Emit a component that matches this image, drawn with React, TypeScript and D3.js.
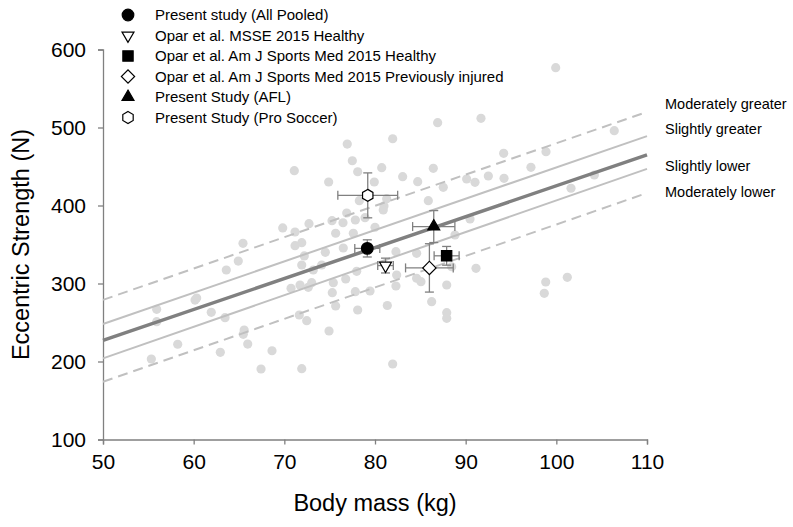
import React, { useRef, useEffect } from 'react';
import * as d3 from 'd3';

// individual players (body mass kg, eccentric strength N)
const bodyMass = [
  71.1, 77.5, 78.09, 74.89, 78.27, 76.88, 75.26, 76.47, 77.83, 72.72, 69.82, 71.18, 75.66, 77.61,
  71.92, 71.18, 65.44, 76.5, 74.52, 72.2, 64.92, 63.6, 71.92, 74.12, 73.19, 77.98, 76.77, 75.4,
  73.02, 71.73, 70.74, 72.64, 77.83, 75.29, 60.33, 60.15, 55.92, 75.66, 78.09, 61.94, 63.46, 55.92,
  71.65, 72.47, 65.57, 65.47, 74.93, 58.24, 65.96, 68.64, 62.94, 55.33, 67.43, 71.92,
  86.91, 91.69, 76.94, 81.95, 80.74, 79.92, 83.05, 84.71, 86.43, 87.53, 90.11, 91.03, 92.5, 94.19,
  94.23, 97.2, 98.86, 81.29, 80.99, 78.9, 80.91, 80.0, 85.88, 88.82, 90.48, 84.59, 82.31, 82.39,
  84.59, 85.07, 79.45, 87.91, 91.14, 98.83, 98.67, 101.21, 86.25, 81.36, 87.91, 87.91, 81.95, 88.46,
  82.31, 99.93, 106.39, 104.19, 101.62,
];
const strength = [
  444.6, 457.4, 443.3, 430.1, 406.2, 390.4, 380.5, 377.9, 381.4, 376.7, 371.2, 366.0, 364.4, 364.4,
  352.3, 348.5, 351.5, 345.5, 340.0, 335.3, 328.8, 317.3, 323.7, 323.7, 317.3, 315.6, 305.8, 301.0,
  301.0, 298.1, 293.8, 295.1, 289.5, 288.2, 281.4, 278.8, 266.9, 271.2, 266.0, 263.1, 256.2, 251.0,
  259.6, 252.3, 240.4, 234.9, 239.1, 222.1, 222.4, 213.8, 211.8, 203.2, 190.4, 190.8,
  506.2, 511.8, 478.8, 485.6, 448.5, 430.1, 436.9, 430.5, 447.7, 423.3, 434.0, 429.7, 437.8, 466.9,
  434.9, 449.0, 469.0, 408.7, 399.4, 384.4, 394.2, 372.1, 406.2, 362.2, 382.7, 338.7, 340.8, 310.9,
  306.7, 302.3, 290.4, 298.1, 319.5, 301.9, 287.4, 307.9, 276.7, 271.8, 262.6, 255.4, 196.8, 321.5,
  296.8, 576.7, 495.9, 439.1, 422.1,
];

// group means with SD
const groupNames = [
  'Present study (All Pooled)',
  'Opar et al. MSSE 2015 Healthy',
  'Opar et al. Am J Sports Med 2015 Healthy',
  'Opar et al. Am J Sports Med 2015 Previously injured',
  'Present Study (AFL)',
  'Present Study (Pro Soccer)',
];
const groupSymbols = ['circle', 'triangleDown', 'square', 'diamond', 'triangle', 'hexagon'];
const groupMass = [79.15, 81.16, 87.9, 86.0, 86.48, 79.2];
const groupMassErr = [1.38, 0.86, 1.38, 2.63, 2.33, 3.3];
const groupStrength = [345, 323, 335.5, 320, 373, 413];
const groupStrengthErr = [11, 9.5, 12, 31, 20.5, 28.8];

// regression line and thresholds, value at 50 kg and 110 kg
const refLabels = ['Moderately greater', 'Slightly greater', 'Slightly lower', 'Moderately lower'];
const refStart = [279, 248, 204, 174];
const refEnd = [520, 489, 447, 416];
const refDashed = [true, false, false, true];
const fitStart = 227;
const fitEnd = 465;

const xTicks = [50, 60, 70, 80, 90, 100, 110];
const yTicks = [100, 200, 300, 400, 500, 600];

const font = '"Liberation Sans", Arial, sans-serif';

const symbolPath = (name: string) => {
  if (name === 'circle') return d3.symbol().type(d3.symbolCircle).size(106)();
  if (name === 'square') return d3.symbol().type(d3.symbolSquare).size(106)();
  if (name === 'triangle' || name === 'triangleDown') return d3.symbol().type(d3.symbolTriangle).size(62)();
  if (name === 'diamond') return d3.symbol().type(d3.symbolSquare).size(88)();
  // hexagon, pointy top
  const r = 6;
  const pts = d3.range(6).map((i) => {
    const a = (Math.PI / 3) * i - Math.PI / 2;
    return [r * Math.cos(a), r * Math.sin(a)];
  });
  return 'M' + pts.map((p) => p.join(',')).join('L') + 'Z';
};
const symbolRotate = (name: string) => (name === 'triangleDown' ? 180 : name === 'diamond' ? 45 : 0);
const symbolFill = (name: string) =>
  name === 'circle' || name === 'square' || name === 'triangle' ? '#000' : '#fff';

const App = () => {
  const svgRef = useRef(null);

  useEffect(() => {
    const svg = d3.select(svgRef.current);
    svg.selectAll('*').remove();

    const x = d3.scaleLinear().domain([50, 110]).range([103, 647]);
    const y = d3.scaleLinear().domain([100, 600]).range([439.5, 49.5]);

    // axes
    const yAxis = svg.append('g').attr('transform', 'translate(103,0)')
      .call(d3.axisLeft(y).tickValues(yTicks).tickSize(5).tickPadding(12));
    const xAxis = svg.append('g').attr('transform', 'translate(0,439.5)')
      .call(d3.axisBottom(x).tickValues(xTicks).tickSize(5).tickPadding(10));
    [xAxis, yAxis].forEach((a) => {
      a.selectAll('path, line').attr('stroke', '#808080').attr('stroke-width', 1.3);
      a.selectAll('text').style('font-family', font).style('font-size', '21px').attr('fill', '#000');
    });

    svg.append('text')
      .attr('transform', 'translate(29,244.5) rotate(-90)')
      .attr('text-anchor', 'middle')
      .style('font-family', font).style('font-size', '23.5px')
      .text('Eccentric Strength (N)');
    svg.append('text')
      .attr('x', 375).attr('y', 511)
      .attr('text-anchor', 'middle')
      .style('font-family', font).style('font-size', '23.5px')
      .text('Body mass (kg)');

    // individual players
    svg.append('g').selectAll('circle')
      .data(bodyMass)
      .enter()
      .append('circle')
      .attr('cx', (d) => x(d))
      .attr('cy', (d, i) => y(strength[i]))
      .attr('r', 4.6)
      .attr('fill', '#d9d9d9');

    // threshold lines
    const lines = svg.append('g');
    refLabels.forEach((label, i) => {
      lines.append('line')
        .attr('x1', x(50)).attr('y1', y(refStart[i]))
        .attr('x2', x(110)).attr('y2', y(refEnd[i]))
        .attr('stroke', '#c0c0c0')
        .attr('stroke-width', 2)
        .attr('stroke-dasharray', refDashed[i] ? '10,6' : null);
      lines.append('text')
        .attr('x', 665)
        .attr('y', [104, 129, 166, 191.5][i])
        .attr('dy', '0.35em')
        .style('font-family', font).style('font-size', '14.5px')
        .text(label);
    });
    lines.append('line')
      .attr('x1', x(50)).attr('y1', y(fitStart))
      .attr('x2', x(110)).attr('y2', y(fitEnd))
      .attr('stroke', '#808080')
      .attr('stroke-width', 3.5);

    // error bars
    const err = svg.append('g').attr('stroke', '#808080').attr('stroke-width', 1.3);
    groupNames.forEach((g, i) => {
      const cx = x(groupMass[i]);
      const cy = y(groupStrength[i]);
      const x0 = x(groupMass[i] - groupMassErr[i]);
      const x1 = x(groupMass[i] + groupMassErr[i]);
      const y0 = y(groupStrength[i] - groupStrengthErr[i]);
      const y1 = y(groupStrength[i] + groupStrengthErr[i]);
      const c = 4.5;
      err.append('line').attr('x1', x0).attr('x2', x1).attr('y1', cy).attr('y2', cy);
      err.append('line').attr('x1', cx).attr('x2', cx).attr('y1', y0).attr('y2', y1);
      err.append('line').attr('x1', x0).attr('x2', x0).attr('y1', cy - c).attr('y2', cy + c);
      err.append('line').attr('x1', x1).attr('x2', x1).attr('y1', cy - c).attr('y2', cy + c);
      err.append('line').attr('x1', cx - c).attr('x2', cx + c).attr('y1', y0).attr('y2', y0);
      err.append('line').attr('x1', cx - c).attr('x2', cx + c).attr('y1', y1).attr('y2', y1);
    });

    // group markers
    svg.append('g').selectAll('path')
      .data(groupSymbols)
      .enter()
      .append('path')
      .attr('d', (d) => symbolPath(d))
      .attr('transform', (d, i) => `translate(${x(groupMass[i])},${y(groupStrength[i])}) rotate(${symbolRotate(d)})`)
      .attr('fill', (d) => symbolFill(d))
      .attr('stroke', '#000')
      .attr('stroke-width', 1.2);

    // legend
    const legend = svg.append('g');
    const rowY = (i: number) => 15 + i * 20.5;
    legend.selectAll('path')
      .data(groupSymbols)
      .enter()
      .append('path')
      .attr('d', (d) => symbolPath(d))
      .attr('transform', (d, i) => `translate(128,${rowY(i)}) rotate(${symbolRotate(d)})`)
      .attr('fill', (d) => symbolFill(d))
      .attr('stroke', '#000')
      .attr('stroke-width', 1.2);
    legend.selectAll('text')
      .data(groupNames)
      .enter()
      .append('text')
      .attr('x', 155)
      .attr('y', (d, i) => rowY(i))
      .attr('dy', '0.35em')
      .style('font-family', font).style('font-size', '15px')
      .text((d) => d);
  }, []);

  return (
    <svg ref={svgRef} width={793} height={527}
      style={{ position: 'absolute', left: 0, top: 0, background: '#fff' }} />
  );
};

export default App;
